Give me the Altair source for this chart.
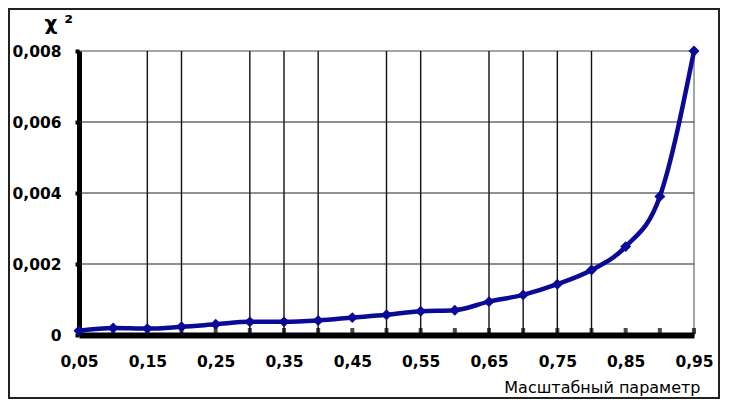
import altair as alt
import pandas as pd

# data
x_vals = [0.05, 0.10, 0.15, 0.20, 0.25, 0.30, 0.35, 0.40, 0.45, 0.50,
          0.55, 0.60, 0.65, 0.70, 0.75, 0.80, 0.85, 0.90, 0.95]
chi2 = [0.00012, 0.00020, 0.00018, 0.00023, 0.00030, 0.00037, 0.00037, 0.00041, 0.00049, 0.00057,
        0.00067, 0.00070, 0.00094, 0.00113, 0.00143, 0.00183, 0.00249, 0.00390, 0.00800]
x_labels = [0.05, 0.15, 0.25, 0.35, 0.45, 0.55, 0.65, 0.75, 0.85, 0.95]
y_labels = [0, 0.002, 0.004, 0.006, 0.008]
v_grid = [0.15, 0.20, 0.30, 0.35, 0.40, 0.50, 0.55, 0.65, 0.70, 0.75, 0.80]
h_grid = [0.002, 0.004, 0.006]

df = pd.DataFrame({"x": x_vals, "y": chi2})
vg = pd.DataFrame({"x": v_grid})
hg = pd.DataFrame({"y": h_grid})
ticks = pd.DataFrame({"x": x_vals})

FONT = "DejaVu Sans"
xs = alt.Scale(domain=[0.05, 0.95], nice=False, zero=False)
ys = alt.Scale(domain=[0, 0.008], nice=False)

x_axis = alt.Axis(values=x_labels, title="Масштабный параметр",
                  labelExpr="replace(format(datum.value, '.2f'), '.', ',')",
                  labelFont=FONT, labelFontWeight="bold", labelFontSize=15.5, labelColor="black",
                  labelPadding=19, labelFlush=False, labelOverlap=False, ticks=False, grid=False,
                  domainColor="black", domainWidth=6,
                  titleFont=FONT, titleFontWeight="normal", titleFontSize=16, titleColor="black",
                  titleAlign="right", titleAnchor="end", titleX=621, titleY=57, titleBaseline="alphabetic")
y_axis = alt.Axis(values=y_labels, title="χ ²",
                  labelExpr="datum.value == 0 ? '0' : replace(format(datum.value, '.3f'), '.', ',')",
                  labelFont=FONT, labelFontWeight="bold", labelFontSize=15.5, labelColor="black",
                  labelPadding=14, tickSize=4, tickWidth=4, tickColor="black", grid=False,
                  domainColor="black", domainWidth=5,
                  titleFont=FONT, titleFontWeight="bold", titleFontSize=20, titleColor="black",
                  titleAngle=0, titleAlign="left", titleX=-35, titleY=-22, titleBaseline="alphabetic")

vrules = alt.Chart(vg).mark_rule(color="#111", strokeWidth=1.4).encode(x=alt.X("x:Q", scale=xs, axis=x_axis))
hrules = alt.Chart(hg).mark_rule(color="#222", strokeWidth=1.1).encode(y=alt.Y("y:Q", scale=ys, axis=y_axis))
tickm = alt.Chart(ticks).mark_tick(color="black", orient="vertical", size=6, thickness=4, yOffset=-4).encode(
    x=alt.X("x:Q", scale=xs), y=alt.datum(0, scale=ys))
frame = alt.Chart(pd.DataFrame({"a": [1]})).mark_rect(fill=None, stroke="#222", strokeWidth=2).encode(
    x=alt.value(-70), x2=alt.value(640), y=alt.value(-42), y2=alt.value(347))
line = alt.Chart(df).mark_line(color="#0a0a96", strokeWidth=4.5, interpolate="monotone",
                               point=alt.OverlayMarkDef(shape="diamond", size=120, filled=True, color="#0a0a96")).encode(
    x=alt.X("x:Q", scale=xs), y=alt.Y("y:Q", scale=ys))

chart = alt.layer(vrules, hrules, tickm, frame, line).properties(
    width=615, height=284,
    autosize=alt.AutoSizeParams(type="none"),
    padding={"left": 71, "top": 43, "right": 27, "bottom": 65},
    background="white",
).configure_view(stroke="#7f8c8c", strokeWidth=1.5)

chart.save("out.html", embed_options={"renderer": "svg", "actions": False})
